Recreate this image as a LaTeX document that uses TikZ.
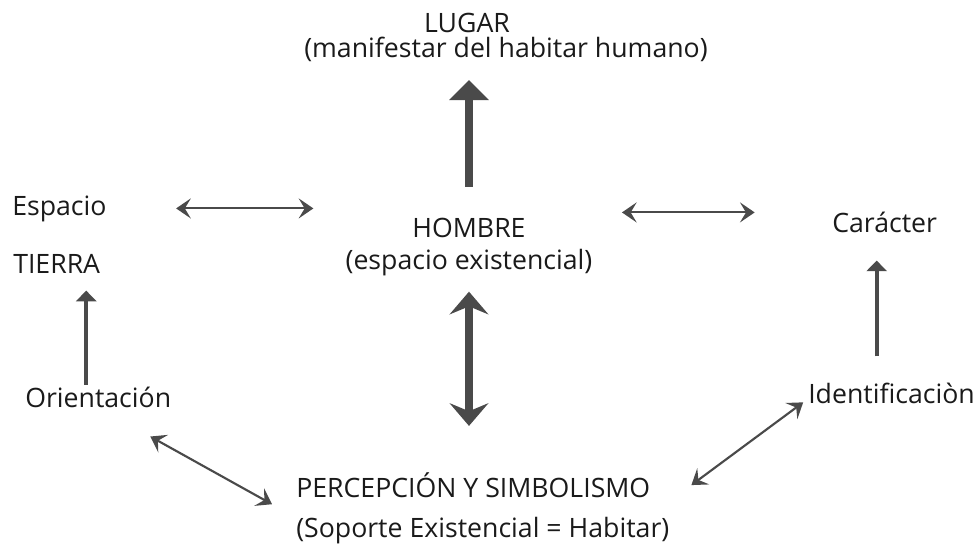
\documentclass[tikz,border=0pt]{standalone}
\usepackage{fontspec}
\setmainfont{Open Sans}
\usetikzlibrary{arrows.meta}
\definecolor{arrowgray}{HTML}{4A4A4A}
\definecolor{textblack}{HTML}{1A1A1A}

\begin{document}
\begin{tikzpicture}[x=0.75pt,y=-0.75pt,
  every node/.style={font=\fontsize{20}{24}\selectfont,inner sep=0pt,text=textblack},
  dblarrow/.style={arrowgray,line width=1.6pt,{Stealth[length=11pt,width=15pt,inset=4.5pt]}-{Stealth[length=11pt,width=15pt,inset=4.5pt]}},
  uparrow/.style={arrowgray,line width=3pt,-{Triangle[length=8pt,width=15pt]}},
  bigup/.style={arrowgray,line width=6pt,-{Triangle[length=15pt,width=29pt]}},
  bigdbl/.style={arrowgray,line width=6pt,{Stealth[length=17pt,width=29pt,inset=6pt]}-{Stealth[length=17pt,width=29pt,inset=6pt]}}]
\useasboundingbox (0,0) rectangle (980,550);
\node[anchor=base] (lugar) at (467,32) {LUGAR};
\node[anchor=base] (lugarsub) at (506,57) {(manifestar del habitar humano)};
\node[anchor=base west] (espacio) at (12,215) {Espacio};
\node[anchor=base west] (tierra) at (13,273) {TIERRA};
\node[align=center,anchor=base] (hombre) at (469,269) {HOMBRE\\(espacio existencial)};
\node[anchor=base west] (caracter) at (832,232) {Carácter};
\node[anchor=base west] (orient) at (25,407) {Orientación};
\node[anchor=base west] (ident) at (808,403) {Identificaciòn};
\node[align=left,anchor=base west] (percep) at (296,537) {PERCEPCIÓN Y SIMBOLISMO\\[6pt](Soporte Existencial = Habitar)};
% flechas gruesas
\draw[bigup,shorten <=23pt,shorten >=14pt] (hombre.north) -- (hombre.north |- lugarsub.south);
\draw[bigdbl,shorten <=12pt,shorten >=34.5pt] (hombre.south) -- (hombre.south |- percep.north);
% flechas finas
\draw[dblarrow,shorten <=52pt,shorten >=24pt] (espacio.east) -- (espacio.east -| hombre.west);
\draw[dblarrow,shorten <=22pt,shorten >=58pt] ([yshift=-3pt]hombre.east |- espacio.east) -- ([yshift=-3pt]caracter.west |- espacio.east);
\draw[uparrow,shorten <=1pt,shorten >=13pt] ([xshift=-9pt]orient.north) -- ([xshift=-9pt]orient.north |- tierra.south);
\draw[uparrow,shorten <=19.5pt,shorten >=21pt] ([xshift=-6pt]caracter.south |- ident.north) -- ([xshift=-6pt]caracter.south);
\draw[dblarrow,shorten <=44.7pt,shorten >=20.6pt] (orient.south) -- (percep.183);
\draw[dblarrow,shorten <=20.4pt,shorten >=4.5pt] (percep.2.5) -- (ident.184);
\end{tikzpicture}
\end{document}
